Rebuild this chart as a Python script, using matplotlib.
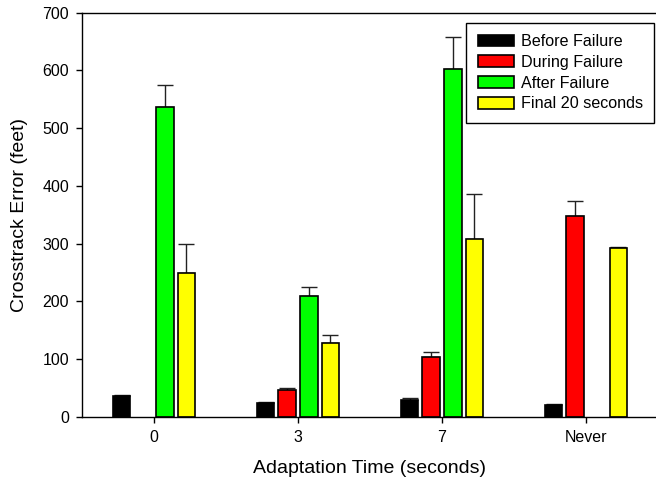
import numpy as np
import matplotlib
matplotlib.use("Agg")
import matplotlib.pyplot as plt

plt.rcParams['font.family'] = ['Liberation Sans', 'DejaVu Sans']

# Data
groups = ["0", "3", "7", "Never"]
series = ["Before Failure", "During Failure", "After Failure", "Final 20 seconds"]
colors = ["#000000", "#ff0000", "#00ff00", "#ffff00"]

before = [35, 23, 29, 21]
during = [np.nan, 46, 104, 348]
after = [537, 209, 602, np.nan]
final20 = [249, 127, 308, 293]

before_err = [3, 2, 3, 1]
during_err = [0, 4, 8, 26]
after_err = [38, 16, 56, 0]
final20_err = [51, 15, 78, 1.5]

values = [before, during, after, final20]
errors = [before_err, during_err, after_err, final20_err]

fig = plt.figure(figsize=(6.56, 4.87), dpi=100)
ax = fig.add_axes([0.125, 0.1444, 0.878, 0.8296])

x = np.arange(len(groups))
step = 0.15
width = 0.122
for i, (vals, errs, col, name) in enumerate(zip(values, errors, colors, series)):
    pos = x + (i - 1.5) * step
    vals = np.array(vals, dtype=float)
    ax.bar(pos, vals, width, color=col, edgecolor="black", linewidth=1.2,
           label=name, zorder=2)
    mask = ~np.isnan(vals)
    ax.errorbar(pos[mask], vals[mask], yerr=[np.zeros(mask.sum()), np.array(errs)[mask]],
                fmt="none", ecolor="#222222", elinewidth=1, capsize=6, capthick=1, zorder=1)

ax.set_xlim(-0.5, 3.5)
ax.set_ylim(0, 700)
ax.set_xticks(x)
ax.set_xticklabels(groups)
ax.set_yticks(range(0, 701, 100))
ax.tick_params(direction="out", length=4.3, width=1, labelsize=11.5, pad=5)
ax.spines["right"].set_visible(False)
for s in ["left", "bottom", "top"]:
    ax.spines[s].set_linewidth(1)

ax.set_ylabel("Crosstrack Error (feet)", fontsize=14, labelpad=10)
ax.set_xlabel("Adaptation Time (seconds)", fontsize=14, labelpad=11)

leg = ax.legend(loc="upper right", bbox_to_anchor=(0.9931, 0.975), fontsize=11.6,
                fancybox=False, framealpha=1, edgecolor="black", borderpad=0.7,
                handlelength=2.26, handleheight=0.72, handletextpad=0.4,
                labelspacing=0.36, borderaxespad=0)
leg.get_frame().set_linewidth(1)

fig.savefig("out.png", dpi=100)
